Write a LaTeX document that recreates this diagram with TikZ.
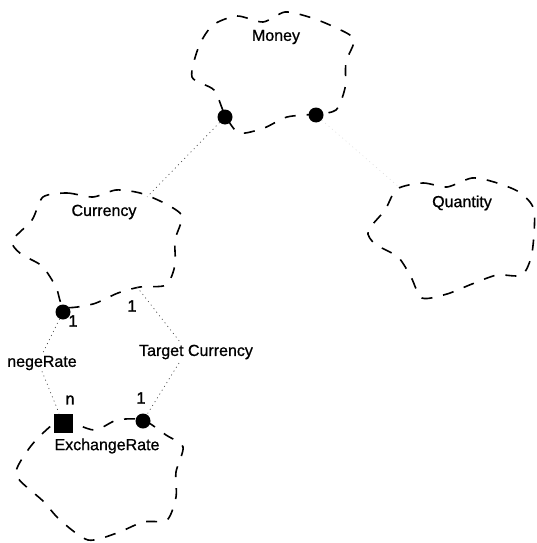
\documentclass[tikz,border=0pt]{standalone}
\usepackage{fontspec}
\setmainfont{Liberation Sans}
\newfontfamily\lblfont[FakeBold=0.9]{Liberation Sans}
\newfontfamily\multfont[FakeBold=1.8]{Liberation Sans}
\begin{document}
\begin{tikzpicture}[x=1pt,y=-1pt,
  cloudline/.style={line width=1.6pt, dash pattern=on 11pt off 11pt},
  conn/.style={line width=0.7pt, dash pattern=on 1pt off 3.5pt, black!70},
  faint/.style={line width=0.5pt, dash pattern=on 1pt off 3.5pt, black!15},
  lbl/.style={font=\lblfont\fontsize{16}{18}\selectfont, inner sep=1pt},
  mult/.style={font=\multfont\fontsize{16.5}{18}\selectfont, inner sep=0pt},
  dotmark/.style={circle, fill=black, inner sep=0pt, minimum size=15pt},
  sqmark/.style={rectangle, fill=black, inner sep=0pt, minimum size=19pt}]
\useasboundingbox (0,0) rectangle (536,543);

% clouds
\draw[cloudline] plot[smooth cycle, tension=0.45] coordinates {
 (213,25) (237,16) (263,22) (285,12) (309,17) (332,26) (354,39) (346,62)
 (345,88) (336,110) (316,114) (287,117) (264,128) (239,133) (225,115)
 (214,90) (192,77) (199,46)};
\draw[cloudline] plot[smooth cycle, tension=0.45] coordinates {
 (43,197) (67,193) (93,197) (116,190) (140,193) (164,203) (182,216)
 (175,240) (175,265) (166,285) (140,287) (118,293) (93,304) (64,307)
 (56,287) (42,266) (21,254) (12,241) (32,220)};
\draw[cloudline] plot[smooth cycle, tension=0.45] coordinates {
 (397,189) (423,183) (447,187) (472,178) (494,182) (519,192) (534,210)
 (532,253) (522,275) (497,275) (472,284) (447,294) (422,298) (411,277)
 (398,257) (375,244) (368,231) (385,210)};
\draw[cloudline] plot[smooth cycle, tension=0.45] coordinates {
 (43,433) (62,420) (94,430) (117,420) (143,420) (166,435) (183,447)
 (176,472) (176,497) (167,520) (143,522) (117,533) (88,540) (60,520)
 (43,501) (16,475) (28,450)};

% class names
\node[lbl] (money) at (276,37) {Money};
\node[lbl] (currency) at (104,212) {Currency};
\node[lbl] (quantity) at (462,203) {Quantity};
\node[lbl] (exrate) at (107,446) {ExchangeRate};

% adornments
\node[dotmark] (mA) at (225,117) {};
\node[dotmark] (mB) at (316,115) {};
\node[dotmark] (cdot) at (63,312) {};
\node[dotmark] (edot) at (143,421) {};
\node[sqmark] (esq) at (63,423) {};

% cloud boundary points used by connectors
\coordinate (curtop) at (147,197);
\coordinate (curbot) at (137,287);
\coordinate (qtop) at (400,188);

% role labels
\node[lbl] (neg) at (42,363) {negeRate};
\node[lbl] (tc) at (196,352) {Target Currency};
\coordinate (tcA) at (180,342);
\coordinate (tcB) at (179,363);

% multiplicities
\node[mult] (m1) at (73,321) {1};
\node[mult] (m2) at (132,306) {1};
\node[mult] (m3) at (70,400) {n};
\node[mult] (m4) at (141,398) {1};

% connectors
\draw[conn] (mA) -- (curtop);
\draw[faint] (mB) -- (qtop);
\draw[conn] (cdot) -- (neg.north);
\draw[conn] (neg.south) -- (esq);
\draw[conn] (curbot) -- (tcA);
\draw[conn] (tcB) -- (edot);
\end{tikzpicture}
\end{document}
